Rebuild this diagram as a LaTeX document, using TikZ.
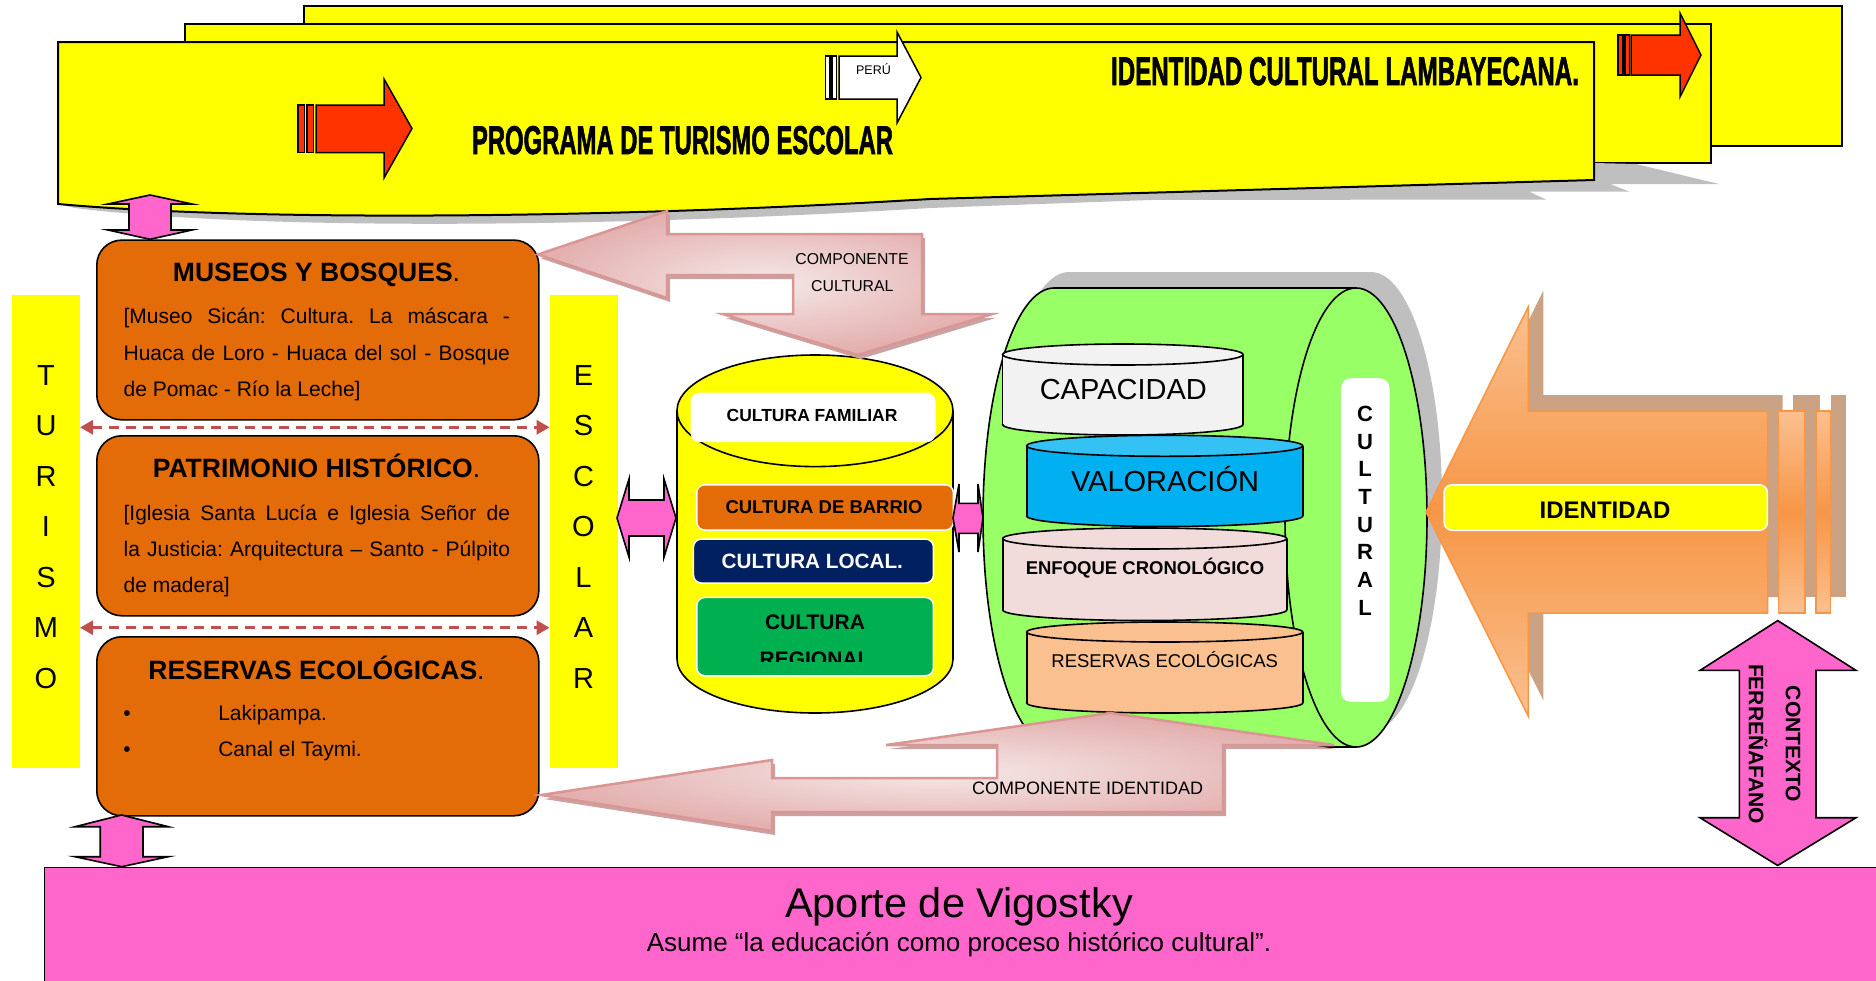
\documentclass[tikz,border=0pt]{standalone}
\usepackage{fontspec}
\usepackage{graphicx}
\setmainfont{Liberation Sans}
\newfontfamily\bannerfont{Liberation Sans}[FakeBold=2]
\usetikzlibrary{arrows.meta}
\definecolor{ylw}{HTML}{FFFF00}
\definecolor{orangebox}{HTML}{E36C09}
\definecolor{pinkF}{HTML}{FF66CC}
\definecolor{greenC}{HTML}{99FF66}
\definecolor{redA}{HTML}{FF3300}
\definecolor{dashc}{HTML}{C0504D}
\definecolor{shadowg}{HTML}{BFBFBF}
\definecolor{navy}{HTML}{002060}
\definecolor{greenB}{HTML}{00B050}
\definecolor{blueC}{HTML}{00B0F0}
\definecolor{blueTop}{HTML}{33C2F3}
\definecolor{grayC}{HTML}{F2F2F2}
\definecolor{pinkC}{HTML}{F2DCDB}
\definecolor{peachC}{HTML}{FAC090}
\definecolor{orA}{HTML}{F79646}
\definecolor{orLight}{HTML}{FAC090}
\definecolor{tanS}{HTML}{CCA284}
\definecolor{pkIn}{HTML}{F6E8E8}
\definecolor{pkOut}{HTML}{E3B0AF}
\definecolor{pkEdge}{HTML}{D99694}
\definecolor{pkShadow}{HTML}{C9A3A3}
\newcommand\fsz[1]{\fontsize{#1pt}{#1pt}\selectfont}
\newcommand\mydisk[7]{%
  \fill[#6] ({#1-#2},#3) rectangle ({#1+#2},#4);
  \fill[#6] (#1,#4) ellipse [x radius=#2pt, y radius=#5pt];
  \draw[blk] ({#1-#2},#3) -- ({#1-#2},#4) ({#1+#2},#3) -- ({#1+#2},#4);
  \begin{scope}
    \clip ({#1-#2-4},#4) rectangle ({#1+#2+4},{#4+#5+4});
    \draw[blk] (#1,#4) ellipse [x radius=#2pt, y radius=#5pt];
  \end{scope}
  \draw[blk,fill=#7] (#1,#3) ellipse [x radius=#2pt, y radius=#5pt];
}
\newcommand\compApath[1]{\path[#1] (538,254.5) -- (667,211) -- (667,234) -- (922,234) -- (922,314) -- (992.5,314) -- (857.5,355) -- (722.5,314) -- (793,314) -- (793,275) -- (667,275) -- (667,298) -- cycle;}
\newcommand\compBpath[1]{\path[#1] (541,795) -- (772,760) -- (772,778) -- (997,778) -- (997,745) -- (886,745) -- (1110,713) -- (1334,745) -- (1223,745) -- (1223,812) -- (772,812) -- (772,831) -- cycle;}
\newcommand\idarrowpath[1]{\path[#1] (1426,512) -- (1528.3,306.8) -- (1528.3,411) -- (1767.7,411) -- (1767.7,613) -- (1528.3,613) -- (1528.3,716.3) -- cycle;
  \path[#1] (1778.3,411) rectangle (1805,613);
  \path[#1] (1816,411) rectangle (1830.7,613);}
\begin{document}
\frenchspacing
\begin{tikzpicture}[x=1pt,y=-1pt,
  blk/.style={draw=black,line width=1.6pt},
  lay/.style={fill=ylw,draw=black,line width=2pt,line join=miter},
  txt/.style={inner sep=0pt,outer sep=0pt,anchor=base},
  obox/.style={fill=orangebox,draw=black,line width=1.6pt,rounded corners=25pt,anchor=north west,inner sep=0pt},
  bar/.style={fill=ylw,draw=none,anchor=north west,inner sep=0pt},
  pinkar/.style={fill=pinkF,draw=black,line width=1.6pt,line join=miter},
  ibox/.style={draw=white,line width=1.5pt,rounded corners=8pt,anchor=north west,inner sep=0pt},
  redar/.style={fill=redA,draw=black,line width=1.5pt,line join=miter},
  whar/.style={fill=white,draw=black,line width=1.5pt,line join=miter},
  dasharrow/.style={draw=dashc,line width=3pt,dash pattern=on 10pt off 7pt,{Triangle[length=13pt,width=14pt]}-{Triangle[length=13pt,width=14pt]}},
  comp/.style={draw=pkEdge,line width=2.5pt,inner color=pkIn,outer color=pkOut,line join=miter},
  compsh/.style={fill=pkShadow},
]
\useasboundingbox (0,0) rectangle (1876,980);
\fill[white] (0,0) rectangle (1876,980);

% ---------- banner ----------
\draw[lay] (304,6) rectangle (1842,146);
\draw[lay] (185,24) rectangle (1711,163);
\fill[shadowg] (1594,163) -- (1636,164) -- (1719,184) -- (1610,184) -- (1629,191.5) -- (1529,191.5) -- (1546,199.5) -- (1150,200) -- (930,208) .. controls (620,227) and (260,231) .. (75,208) -- (58,204) -- (58,195) -- (1594,172) -- cycle;
\draw[lay] (58,42) -- (1594,42) -- (1594,180) -- (930,199) .. controls (620,218) and (260,222) .. (58,204) -- cycle;

% red arrow left
\draw[redar] (298,105) rectangle (304.5,152.7);
\draw[redar] (307,105) rectangle (313.5,152.7);
\draw[redar] (316,105) -- (384,105) -- (384,79) -- (412,128.5) -- (384,178) -- (384,152.7) -- (316,152.7) -- cycle;
% PERU arrow
\draw[whar] (825.5,56) rectangle (830,99);
\draw[whar] (832,56) rectangle (836.5,99);
\draw[whar] (839,56) -- (897,56) -- (897,32) -- (921,77.5) -- (897,123) -- (897,99) -- (839,99) -- cycle;
\node[txt] (peru) at (873.5,74) {\fsz{12.5}PERÚ};
% red arrow right
\draw[redar] (1618,35) rectangle (1623,75);
\draw[redar] (1625,35) rectangle (1629.5,75);
\draw[redar] (1631,35) -- (1680,35) -- (1680,13) -- (1701,55) -- (1680,97) -- (1680,75) -- (1631,75) -- cycle;

\node[txt] (prog) at (682.5,154) {\resizebox{421pt}{28pt}{\bannerfont\bfseries PROGRAMA DE TURISMO ESCOLAR}};
\node[txt] (idlam) at (1345,85) {\resizebox{468pt}{28pt}{\bannerfont\bfseries IDENTIDAD CULTURAL LAMBAYECANA.}};

% ---------- left column ----------
\node[bar,minimum width=68pt,minimum height=472.7pt] (turbar) at (12,295) {};
\node[bar,minimum width=67.7pt,minimum height=472.7pt] (escbar) at (549.6,295) {};
\foreach \l [count=\i from 0] in {T,U,R,I,S,M,O}
  \node[txt] (tur\i) at (46,{385+50.55*\i}) {\fsz{29}\l};
\foreach \l [count=\i from 0] in {E,S,C,O,L,A,R}
  \node[txt] (esc\i) at (583.5,{385+50.55*\i}) {\fsz{29}\l};

\node[obox,minimum width=442pt,minimum height=179.7pt] (museos) at (96,239.3) {};
\node[obox,minimum width=442pt,minimum height=180pt] (patri) at (96,435) {};
\node[obox,minimum width=442pt,minimum height=179pt] (reserv) at (96,636) {};

\node[txt] (mt) at (316.5,281.7) {\fsz{26.5}\textbf{MUSEOS Y BOSQUES}.};
\node[txt,anchor=base west] (m1) at (123.6,323.3) {\fsz{21}\makebox[386.4pt][s]{[Museo Sicán: Cultura. La máscara -}};
\node[txt,anchor=base west] (m2) at (123.6,360) {\fsz{21}\makebox[386.4pt][s]{Huaca de Loro - Huaca del sol - Bosque}};
\node[txt,anchor=base west] (m3) at (123.6,396.7) {\fsz{21}de Pomac - Río la Leche]};

\node[txt] (pt) at (316.5,477.7) {\fsz{26.5}\textbf{PATRIMONIO HISTÓRICO}.};
\node[txt,anchor=base west] (p1) at (123.6,520) {\fsz{21}\makebox[386.4pt][s]{[Iglesia Santa Lucía e Iglesia Señor de}};
\node[txt,anchor=base west] (p2) at (123.6,556) {\fsz{21}\makebox[386.4pt][s]{la Justicia: Arquitectura – Santo - Púlpito}};
\node[txt,anchor=base west] (p3) at (123.6,592.7) {\fsz{21}de madera]};

\node[txt] (rt) at (316.5,679) {\fsz{26.5}\textbf{RESERVAS ECOLÓGICAS}.};
\node[txt] (b1) at (127,720) {\fsz{21}•};
\node[txt,anchor=base west] (r1) at (218.3,720) {\fsz{21}Lakipampa.};
\node[txt] (b2) at (127,756.7) {\fsz{21}•};
\node[txt,anchor=base west] (r2) at (218.3,756.7) {\fsz{21}Canal el Taymi.};

\coordinate (d1l) at (80,427.3);
\coordinate (d1r) at (549.6,427.3);
\coordinate (d2l) at (80,627.7);
\coordinate (d2r) at (549.6,627.7);
\draw[dasharrow] (d1l) -- (d1r);
\draw[dasharrow] (d2l) -- (d2r);

% pink vertical arrows
\draw[pinkar] (150,195) -- (192,204) -- (171,204) -- (171,230) -- (192,230) -- (150,239.3) -- (108,230) -- (129,230) -- (129,204) -- (108,204) -- cycle;
\draw[pinkar] (121.6,815) -- (168.3,826.7) -- (143,826.7) -- (143,856.7) -- (168.3,856.7) -- (121.6,866.7) -- (75,856.7) -- (100.2,856.7) -- (100.2,826.7) -- (75,826.7) -- cycle;

% ---------- Aporte ----------
\node[draw=black,line width=1.6pt,fill=pinkF,anchor=north west,minimum width=1840pt,minimum height=120pt,inner sep=0pt] (aporte) at (43.7,866.7) {};
\node[txt] (ap1) at (959,917) {\fsz{41.5}Aporte de Vigostky};
\node[txt] (ap2) at (959,951.7) {\fsz{26}Asume “la educación como proceso histórico cultural”.};

% ---------- yellow cylinder ----------
\fill[ylw] (677,410.8) rectangle (953,659);
\fill[ylw] (815,659) ellipse [x radius=138pt, y radius=54pt];
\draw[blk] (677,410.8) -- (677,659) (953,410.8) -- (953,659);
\begin{scope}
  \clip (670,659) rectangle (960,720);
  \draw[blk] (815,659) ellipse [x radius=138pt, y radius=54pt];
\end{scope}
\draw[blk,fill=ylw] (815,410.8) ellipse [x radius=138pt, y radius=55.8pt];

\node[ibox,fill=white,minimum width=243.3pt,minimum height=48pt] (famb) at (690.7,392.7) {};
\node[txt] (fam) at (812,421.7) {\fsz{17.5}\bfseries CULTURA FAMILIAR};
\node[ibox,fill=orangebox,minimum width=256.7pt,minimum height=45.3pt] (barb) at (696,484) {};
\node[txt] (bar) at (824,513.3) {\fsz{18.5}\bfseries CULTURA DE BARRIO};
\node[ibox,fill=navy,minimum width=240pt,minimum height=44pt] (locb) at (692.7,538.3) {};
\node[txt,text=white] (loc) at (812.3,568.3) {\fsz{20.7}\bfseries CULTURA LOCAL.};
\node[ibox,fill=greenB,minimum width=236.7pt,minimum height=78.3pt] (regb) at (696,596.7) {};
\node[txt] (reg1) at (815,629.3) {\fsz{21}\bfseries CULTURA};
\begin{scope}
  \clip (690,640) rectangle (940,661.7);
  \node[txt] (reg2) at (815,666) {\fsz{21}\bfseries REGIONAL};
\end{scope}

% pink horizontal arrows
\draw[pinkar] (617,518) -- (629,479) -- (629,500) -- (664,500) -- (664,479) -- (676,518) -- (664,557) -- (664,536) -- (629,536) -- (629,557) -- cycle;
\draw[pinkar] (953,518) -- (959,484) -- (959,503.3) -- (978,503.3) -- (978,484) -- (983,518) -- (978,552) -- (978,533.3) -- (959,533.3) -- (959,552) -- cycle;

% ---------- green cylinder ----------
\begin{scope}[shift={(15,-16)}]
  \fill[shadowg] (1054,288) rectangle (1356,747);
  \fill[shadowg] (1054,517.5) ellipse [x radius=71pt, y radius=229.5pt];
  \fill[shadowg] (1356,517.5) ellipse [x radius=71pt, y radius=229.5pt];
\end{scope}
\fill[greenC] (1054,288) rectangle (1356,747);
\fill[greenC] (1054,517.5) ellipse [x radius=71pt, y radius=229.5pt];
\fill[greenC] (1356,517.5) ellipse [x radius=71pt, y radius=229.5pt];
\draw[blk] (1054,288) -- (1356,288) (1054,747) -- (1356,747);
\draw[blk] (1356,517.5) ellipse [x radius=71pt, y radius=229.5pt];
\begin{scope}
  \clip (970,270) rectangle (1054,760);
  \draw[blk] (1054,517.5) ellipse [x radius=71pt, y radius=229.5pt];
\end{scope}

\mydisk{1122.8}{120.2}{354.5}{424.5}{10.5}{grayC}{grayC}
\node[txt] (cap) at (1123.3,399) {\fsz{29}CAPACIDAD};
\mydisk{1164.7}{138}{445.8}{516}{10.5}{blueC}{blueTop}
\node[txt] (val) at (1165,491.7) {\fsz{29}VALORACIÓN};
\mydisk{1144.7}{142}{538.5}{610}{10.5}{pinkC}{pinkC}
\node[txt] (enf) at (1145,574.3) {\fsz{18.5}\bfseries ENFOQUE CRONOLÓGICO};
\mydisk{1164.7}{138}{632}{703}{10}{peachC}{peachC}
\node[txt] (res) at (1164.7,667.3) {\fsz{18.5}RESERVAS ECOLÓGICAS};

\node[fill=white,rounded corners=10pt,anchor=north west,inner sep=0pt,minimum width=48.6pt,minimum height=323.7pt] (culbox) at (1340.7,378) {};
\foreach \l [count=\i from 0] in {C,U,L,T,U,R,A,L}
  \node[txt] (cul\i) at (1365,{421.6+27.63*\i}) {\fsz{22}\bfseries \l};

% ---------- component arrows ----------
\compApath{compsh,shift={(3,4)}}
\compApath{comp}
\node[txt] (compA1) at (852,264.3) {\fsz{15.8}COMPONENTE};
\node[txt] (compA2) at (852.3,291.7) {\fsz{15.8}CULTURAL};
\compBpath{compsh,shift={(3,4)}}
\compBpath{comp}
\node[txt] (compB) at (1087.7,794) {\fsz{18}COMPONENTE IDENTIDAD};

% ---------- identidad arrow ----------
\idarrowpath{fill=tanS,shift={(15,-16)}}
\idarrowpath{draw=orA,line width=1.5pt,top color=orLight,bottom color=orLight,middle color=orA}
\node[ibox,fill=ylw,minimum width=323.4pt,minimum height=45.5pt] (idbox) at (1443.3,484) {};
\node[txt] (idt) at (1605,518) {\fsz{24}\bfseries IDENTIDAD};

% ---------- contexto arrow ----------
\draw[pinkar] (1777.7,620.6) -- (1856,670.4) -- (1816,670.4) -- (1816,817.7) -- (1856,817.7) -- (1777.7,865.5) -- (1700,817.7) -- (1739.3,817.7) -- (1739.3,670.4) -- (1700,670.4) -- cycle;
\node[rotate=-90,align=center,inner sep=0pt,font=\fontsize{21pt}{37pt}\selectfont\bfseries] (ctx) at (1774.5,744) {CONTEXTO\\FERREÑAFANO};
\end{tikzpicture}
\end{document}
